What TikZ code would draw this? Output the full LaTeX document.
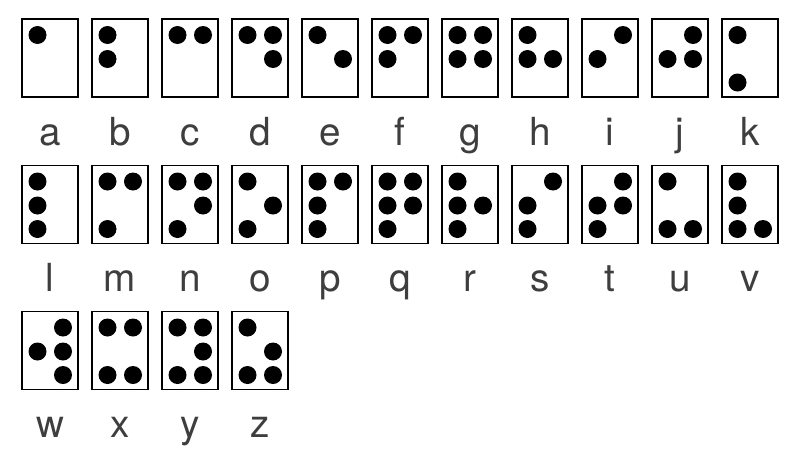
\documentclass[tikz,border=0pt]{standalone}
\usepackage{fontspec}
\setmainfont{TeX Gyre Heros}
\definecolor{lettergray}{RGB}{62,62,62}
\tikzset{every picture/.style={line width=0.75pt}}
\tikzset{
  cell/.style={draw=black, line width=1.3pt, fill=white},
  dot/.style={fill=black},
  letter/.style={anchor=base, inner sep=0.75pt, text=lettergray, font=\fontsize{29}{34}\selectfont}
}
\begin{document}
\begin{tikzpicture}[x=0.75pt,y=0.75pt,yscale=-1,xscale=1]
%set diagram left start at 0, and has height of 450
\useasboundingbox (0,0) rectangle (800,450);

%Shape: Rectangle [a]
\draw [cell] (22,19) rectangle (78,97) ;
\fill [dot] (37.5,35) circle (6.75pt) ;
%Shape: Rectangle [b]
\draw [cell] (92,19) rectangle (148,97) ;
\fill [dot] (107.5,35) circle (6.75pt) (107.5,59) circle (6.75pt) ;
%Shape: Rectangle [c]
\draw [cell] (162,19) rectangle (218,97) ;
\fill [dot] (177.5,35) circle (6.75pt) (203,35) circle (6.75pt) ;
%Shape: Rectangle [d]
\draw [cell] (232,19) rectangle (288,97) ;
\fill [dot] (247.5,35) circle (6.75pt) (273,35) circle (6.75pt) (273,59) circle (6.75pt) ;
%Shape: Rectangle [e]
\draw [cell] (302,19) rectangle (358,97) ;
\fill [dot] (317.5,35) circle (6.75pt) (343,59) circle (6.75pt) ;
%Shape: Rectangle [f]
\draw [cell] (372,19) rectangle (428,97) ;
\fill [dot] (387.5,35) circle (6.75pt) (387.5,59) circle (6.75pt) (413,35) circle (6.75pt) ;
%Shape: Rectangle [g]
\draw [cell] (442,19) rectangle (498,97) ;
\fill [dot] (457.5,35) circle (6.75pt) (457.5,59) circle (6.75pt) (483,35) circle (6.75pt) (483,59) circle (6.75pt) ;
%Shape: Rectangle [h]
\draw [cell] (512,19) rectangle (568,97) ;
\fill [dot] (527.5,35) circle (6.75pt) (527.5,59) circle (6.75pt) (553,59) circle (6.75pt) ;
%Shape: Rectangle [i]
\draw [cell] (582,19) rectangle (638,97) ;
\fill [dot] (597.5,59) circle (6.75pt) (623,35) circle (6.75pt) ;
%Shape: Rectangle [j]
\draw [cell] (652,19) rectangle (708,97) ;
\fill [dot] (667.5,59) circle (6.75pt) (693,35) circle (6.75pt) (693,59) circle (6.75pt) ;
%Shape: Rectangle [k]
\draw [cell] (722,19) rectangle (778,97) ;
\fill [dot] (737.5,35) circle (6.75pt) (737.5,82.5) circle (6.75pt) ;

%Shape: Rectangle [l]
\draw [cell] (22,165.5) rectangle (78,243.5) ;
\fill [dot] (37.5,181.5) circle (6.75pt) (37.5,205.5) circle (6.75pt) (37.5,229) circle (6.75pt) ;
%Shape: Rectangle [m]
\draw [cell] (92,165.5) rectangle (148,243.5) ;
\fill [dot] (107.5,181.5) circle (6.75pt) (107.5,229) circle (6.75pt) (133,181.5) circle (6.75pt) ;
%Shape: Rectangle [n]
\draw [cell] (162,165.5) rectangle (218,243.5) ;
\fill [dot] (177.5,181.5) circle (6.75pt) (177.5,229) circle (6.75pt) (203,181.5) circle (6.75pt) (203,205.5) circle (6.75pt) ;
%Shape: Rectangle [o]
\draw [cell] (232,165.5) rectangle (288,243.5) ;
\fill [dot] (247.5,181.5) circle (6.75pt) (247.5,229) circle (6.75pt) (273,205.5) circle (6.75pt) ;
%Shape: Rectangle [p]
\draw [cell] (302,165.5) rectangle (358,243.5) ;
\fill [dot] (317.5,181.5) circle (6.75pt) (317.5,205.5) circle (6.75pt) (317.5,229) circle (6.75pt) (343,181.5) circle (6.75pt) ;
%Shape: Rectangle [q]
\draw [cell] (372,165.5) rectangle (428,243.5) ;
\fill [dot] (387.5,181.5) circle (6.75pt) (387.5,205.5) circle (6.75pt) (387.5,229) circle (6.75pt) (413,181.5) circle (6.75pt) (413,205.5) circle (6.75pt) ;
%Shape: Rectangle [r]
\draw [cell] (442,165.5) rectangle (498,243.5) ;
\fill [dot] (457.5,181.5) circle (6.75pt) (457.5,205.5) circle (6.75pt) (457.5,229) circle (6.75pt) (483,205.5) circle (6.75pt) ;
%Shape: Rectangle [s]
\draw [cell] (512,165.5) rectangle (568,243.5) ;
\fill [dot] (527.5,205.5) circle (6.75pt) (527.5,229) circle (6.75pt) (553,181.5) circle (6.75pt) ;
%Shape: Rectangle [t]
\draw [cell] (582,165.5) rectangle (638,243.5) ;
\fill [dot] (597.5,205.5) circle (6.75pt) (597.5,229) circle (6.75pt) (623,181.5) circle (6.75pt) (623,205.5) circle (6.75pt) ;
%Shape: Rectangle [u]
\draw [cell] (652,165.5) rectangle (708,243.5) ;
\fill [dot] (667.5,181.5) circle (6.75pt) (667.5,229) circle (6.75pt) (693,229) circle (6.75pt) ;
%Shape: Rectangle [v]
\draw [cell] (722,165.5) rectangle (778,243.5) ;
\fill [dot] (737.5,181.5) circle (6.75pt) (737.5,205.5) circle (6.75pt) (737.5,229) circle (6.75pt) (763,229) circle (6.75pt) ;

%Shape: Rectangle [w]
\draw [cell] (22,311.5) rectangle (78,389.5) ;
\fill [dot] (37.5,351.5) circle (6.75pt) (63,327.5) circle (6.75pt) (63,351.5) circle (6.75pt) (63,375) circle (6.75pt) ;
%Shape: Rectangle [x]
\draw [cell] (92,311.5) rectangle (148,389.5) ;
\fill [dot] (107.5,327.5) circle (6.75pt) (107.5,375) circle (6.75pt) (133,327.5) circle (6.75pt) (133,375) circle (6.75pt) ;
%Shape: Rectangle [y]
\draw [cell] (162,311.5) rectangle (218,389.5) ;
\fill [dot] (177.5,327.5) circle (6.75pt) (177.5,375) circle (6.75pt) (203,327.5) circle (6.75pt) (203,351.5) circle (6.75pt) (203,375) circle (6.75pt) ;
%Shape: Rectangle [z]
\draw [cell] (232,311.5) rectangle (288,389.5) ;
\fill [dot] (247.5,327.5) circle (6.75pt) (247.5,375) circle (6.75pt) (273,351.5) circle (6.75pt) (273,375) circle (6.75pt) ;

% Text Node
\node [letter] (la) at (50,145) {a};
\node [letter] (lb) at (120,145) {b};
\node [letter] (lc) at (190,145) {c};
\node [letter] (ld) at (260,145) {d};
\node [letter] (le) at (330,145) {e};
\node [letter] (lf) at (400,145) {f};
\node [letter] (lg) at (470,145) {g};
\node [letter] (lh) at (540,145) {h};
\node [letter] (li) at (610,145) {i};
\node [letter] (lj) at (680,145) {j};
\node [letter] (lk) at (750,145) {k};
% Text Node
\node [letter] (ll) at (50,291) {l};
\node [letter] (lm) at (120,291) {m};
\node [letter] (ln) at (190,291) {n};
\node [letter] (lo) at (260,291) {o};
\node [letter] (lp) at (330,291) {p};
\node [letter] (lq) at (400,291) {q};
\node [letter] (lr) at (470,291) {r};
\node [letter] (ls) at (540,291) {s};
\node [letter] (lt) at (610,291) {t};
\node [letter] (lu) at (680,291) {u};
\node [letter] (lv) at (750,291) {v};
% Text Node
\node [letter] (lw) at (50,437) {w};
\node [letter] (lx) at (120,437) {x};
\node [letter] (ly) at (190,437) {y};
\node [letter] (lz) at (260,437) {z};

\end{tikzpicture}
\end{document}
